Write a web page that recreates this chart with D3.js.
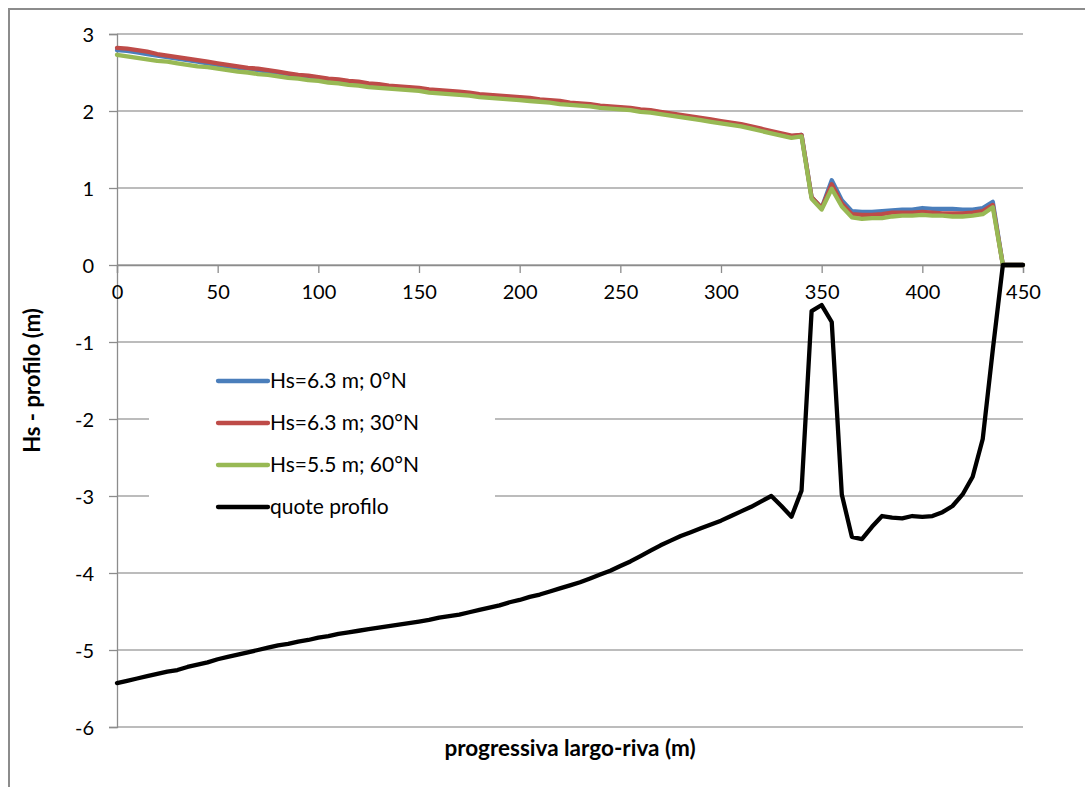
<!DOCTYPE html>
<html>
<head>
<meta charset="utf-8">
<script src="https://cdn.jsdelivr.net/npm/d3@7"></script>
<style>
  html, body { margin: 0; padding: 0; background: #fff; }
  svg { display: block; }
  text { font-family: Lato, "Open Sans", sans-serif; fill: #000; }
</style>
</head>
<body>
<svg id="chart" width="1085" height="787"></svg>
<script>
// Distance along the profile, offshore to shore (m)
const distance = [
  0, 5, 10, 15, 20, 25, 30, 35, 40, 45, 50, 55, 60, 65, 70, 75, 80, 85, 90, 95,
  100, 105, 110, 115, 120, 125, 130, 135, 140, 145, 150, 155, 160, 165, 170, 175, 180, 185, 190, 195,
  200, 205, 210, 215, 220, 225, 230, 235, 240, 245, 250, 255, 260, 265, 270, 275, 280, 285, 290, 295,
  300, 305, 310, 315, 320, 325, 330, 335, 340, 345, 350, 355, 360, 365, 370, 375, 380, 385, 390, 395,
  400, 405, 410, 415, 420, 425, 430, 435, 440, 445, 450
];

// Significant wave height, Hs = 6.3 m from 0°N
const hs0 = [
  2.79, 2.78, 2.76, 2.74, 2.72, 2.70, 2.68, 2.66, 2.64, 2.62, 2.60, 2.58, 2.56, 2.55, 2.53, 2.51, 2.50, 2.48, 2.46, 2.45,
  2.43, 2.41, 2.40, 2.38, 2.37, 2.35, 2.34, 2.32, 2.31, 2.30, 2.29, 2.27, 2.26, 2.25, 2.24, 2.23, 2.21, 2.20, 2.19, 2.18,
  2.17, 2.16, 2.14, 2.13, 2.12, 2.10, 2.09, 2.08, 2.06, 2.05, 2.04, 2.03, 2.01, 2.00, 1.98, 1.96, 1.94, 1.92, 1.90, 1.88,
  1.86, 1.84, 1.82, 1.79, 1.76, 1.73, 1.70, 1.67, 1.69, 0.88, 0.74, 1.10, 0.84, 0.70, 0.69, 0.69, 0.70, 0.71, 0.72, 0.72,
  0.74, 0.73, 0.73, 0.73, 0.72, 0.72, 0.74, 0.82, 0, 0, 0
];

// Significant wave height, Hs = 6.3 m from 30°N
const hs30 = [
  2.82, 2.81, 2.79, 2.77, 2.74, 2.72, 2.70, 2.68, 2.66, 2.64, 2.62, 2.60, 2.58, 2.56, 2.55, 2.53, 2.51, 2.49, 2.47, 2.46,
  2.44, 2.42, 2.41, 2.39, 2.38, 2.36, 2.35, 2.33, 2.32, 2.31, 2.30, 2.28, 2.27, 2.26, 2.25, 2.24, 2.22, 2.21, 2.20, 2.19,
  2.18, 2.17, 2.15, 2.14, 2.13, 2.11, 2.10, 2.09, 2.07, 2.06, 2.05, 2.04, 2.02, 2.01, 1.99, 1.97, 1.95, 1.93, 1.91, 1.89,
  1.87, 1.85, 1.83, 1.80, 1.77, 1.74, 1.71, 1.68, 1.69, 0.88, 0.74, 1.05, 0.80, 0.66, 0.65, 0.65, 0.66, 0.68, 0.68, 0.68,
  0.69, 0.68, 0.67, 0.67, 0.67, 0.68, 0.70, 0.78, 0, 0, 0
];

// Significant wave height, Hs = 5.5 m from 60°N
const hs60 = [
  2.73, 2.71, 2.69, 2.67, 2.65, 2.64, 2.62, 2.60, 2.58, 2.57, 2.55, 2.53, 2.51, 2.50, 2.48, 2.47, 2.45, 2.43, 2.42, 2.40,
  2.39, 2.37, 2.36, 2.34, 2.33, 2.31, 2.30, 2.29, 2.28, 2.27, 2.26, 2.24, 2.23, 2.22, 2.21, 2.20, 2.18, 2.17, 2.16, 2.15,
  2.14, 2.13, 2.12, 2.11, 2.09, 2.08, 2.07, 2.06, 2.04, 2.03, 2.02, 2.01, 1.99, 1.98, 1.96, 1.94, 1.92, 1.90, 1.88, 1.86,
  1.84, 1.82, 1.80, 1.77, 1.74, 1.71, 1.68, 1.65, 1.67, 0.86, 0.72, 0.99, 0.76, 0.62, 0.60, 0.61, 0.61, 0.63, 0.64, 0.64,
  0.65, 0.64, 0.64, 0.63, 0.63, 0.64, 0.66, 0.75, 0, 0, 0
];

// Seabed elevation along the profile (m)
const profile = [
  -5.43, -5.40, -5.37, -5.34, -5.31, -5.28, -5.26, -5.22, -5.19, -5.16, -5.12, -5.09, -5.06, -5.03, -5.00, -4.97, -4.94, -4.92, -4.89, -4.87,
  -4.84, -4.82, -4.79, -4.77, -4.75, -4.73, -4.71, -4.69, -4.67, -4.65, -4.63, -4.61, -4.58, -4.56, -4.54, -4.51, -4.48, -4.45, -4.42, -4.38,
  -4.35, -4.31, -4.28, -4.24, -4.20, -4.16, -4.12, -4.07, -4.02, -3.97, -3.91, -3.85, -3.78, -3.71, -3.64, -3.58, -3.52, -3.47, -3.42, -3.37,
  -3.32, -3.26, -3.20, -3.14, -3.07, -3.00, -3.13, -3.27, -2.93, -0.60, -0.52, -0.74, -2.98, -3.53, -3.56, -3.40, -3.26, -3.28, -3.29, -3.26,
  -3.27, -3.26, -3.21, -3.13, -2.98, -2.75, -2.26, -1.10, 0, 0, 0
];

const seriesNames = ["Hs=6.3 m; 0°N", "Hs=6.3 m; 30°N", "Hs=5.5 m; 60°N", "quote profilo"];
const seriesColors = ["#4a7ebb", "#be4b48", "#98b954", "#000000"];
const seriesValues = [hs0, hs30, hs60, profile];

const xTicks = [0, 50, 100, 150, 200, 250, 300, 350, 400, 450];
const yTicks = [3, 2, 1, 0, -1, -2, -3, -4, -5, -6];

const xTitle = "progressiva largo-riva (m)";
const yTitle = "Hs - profilo (m)";

const svg = d3.select("#chart");
const plot = { left: 117, right: 1023, top: 34, bottom: 727 };

const x = d3.scaleLinear().domain([0, 450]).range([plot.left, plot.right]);
const y = d3.scaleLinear().domain([-6, 3]).range([plot.bottom, plot.top]);

// Outer chart frame
svg.append("rect")
  .attr("x", 9).attr("y", 9)
  .attr("width", 1100).attr("height", 800)
  .attr("fill", "#fff")
  .attr("stroke", "#8c8c8c").attr("stroke-width", 2);

// Horizontal gridlines
svg.append("g")
  .selectAll("line")
  .data(yTicks)
  .join("line")
  .attr("x1", plot.left).attr("x2", plot.right)
  .attr("y1", d => y(d)).attr("y2", d => y(d))
  .attr("stroke", "#a6a6a6").attr("stroke-width", 1.3);

// Vertical axis with outside ticks
const yAxis = svg.append("g")
  .attr("transform", `translate(${plot.left},0)`)
  .call(d3.axisLeft(y).tickValues(yTicks).tickSize(8).tickPadding(15).tickFormat(d3.format("d")));
yAxis.select(".domain").attr("stroke", "#8c8c8c").attr("stroke-width", 1.3);
yAxis.selectAll(".tick line").attr("stroke", "#8c8c8c").attr("stroke-width", 1.3);
yAxis.selectAll(".tick text")
  .attr("font-size", 20).attr("font-family", "Lato, sans-serif").attr("fill", "#000")
  .attr("dy", "0.35em").text(d => d < 0 ? "-" + Math.abs(d) : d);

// Horizontal axis crossing at zero
const xAxis = svg.append("g")
  .attr("transform", `translate(0,${y(0)})`)
  .call(d3.axisBottom(x).tickValues(xTicks).tickSize(8).tickPadding(12).tickFormat(d3.format("d")));
xAxis.select(".domain").attr("stroke", "#8c8c8c").attr("stroke-width", 1.3);
xAxis.selectAll(".tick line").attr("stroke", "#8c8c8c").attr("stroke-width", 1.3);
xAxis.selectAll(".tick text")
  .attr("font-size", 20).attr("font-family", "Lato, sans-serif").attr("fill", "#000");

// Series lines
const line = d3.line()
  .x((d, i) => x(distance[i]))
  .y(d => y(d));

svg.append("g")
  .selectAll("path")
  .data(seriesValues)
  .join("path")
  .attr("d", d => line(d))
  .attr("fill", "none")
  .attr("stroke", (d, i) => seriesColors[i])
  .attr("stroke-width", 4.3)
  .attr("stroke-linejoin", "round")
  .attr("stroke-linecap", "round");

// Axis titles
svg.append("text")
  .attr("x", (plot.left + plot.right) / 2).attr("y", 748)
  .attr("text-anchor", "middle").attr("dy", "0.35em")
  .attr("font-size", 22.5).attr("font-weight", "bold")
  .text(xTitle);

svg.append("text")
  .attr("transform", `translate(32,${(plot.top + plot.bottom) / 2}) rotate(-90)`)
  .attr("text-anchor", "middle").attr("dy", "0.35em")
  .attr("font-size", 22).attr("font-weight", "bold")
  .text(yTitle);

// Legend
const legend = svg.append("g");
legend.append("rect")
  .attr("x", 149).attr("y", 352).attr("width", 346).attr("height", 178)
  .attr("fill", "#fff");
const items = legend.selectAll("g.item")
  .data(seriesNames)
  .join("g")
  .attr("class", "item")
  .attr("transform", (d, i) => `translate(218,${381 + i * 42})`);
items.append("line")
  .attr("x1", 0).attr("x2", 50)
  .attr("stroke", (d, i) => seriesColors[i])
  .attr("stroke-width", 4.3).attr("stroke-linecap", "round");
items.append("text")
  .attr("x", 52).attr("dy", "0.35em")
  .attr("font-size", 21)
  .text(d => d);
</script>
</body>
</html>
